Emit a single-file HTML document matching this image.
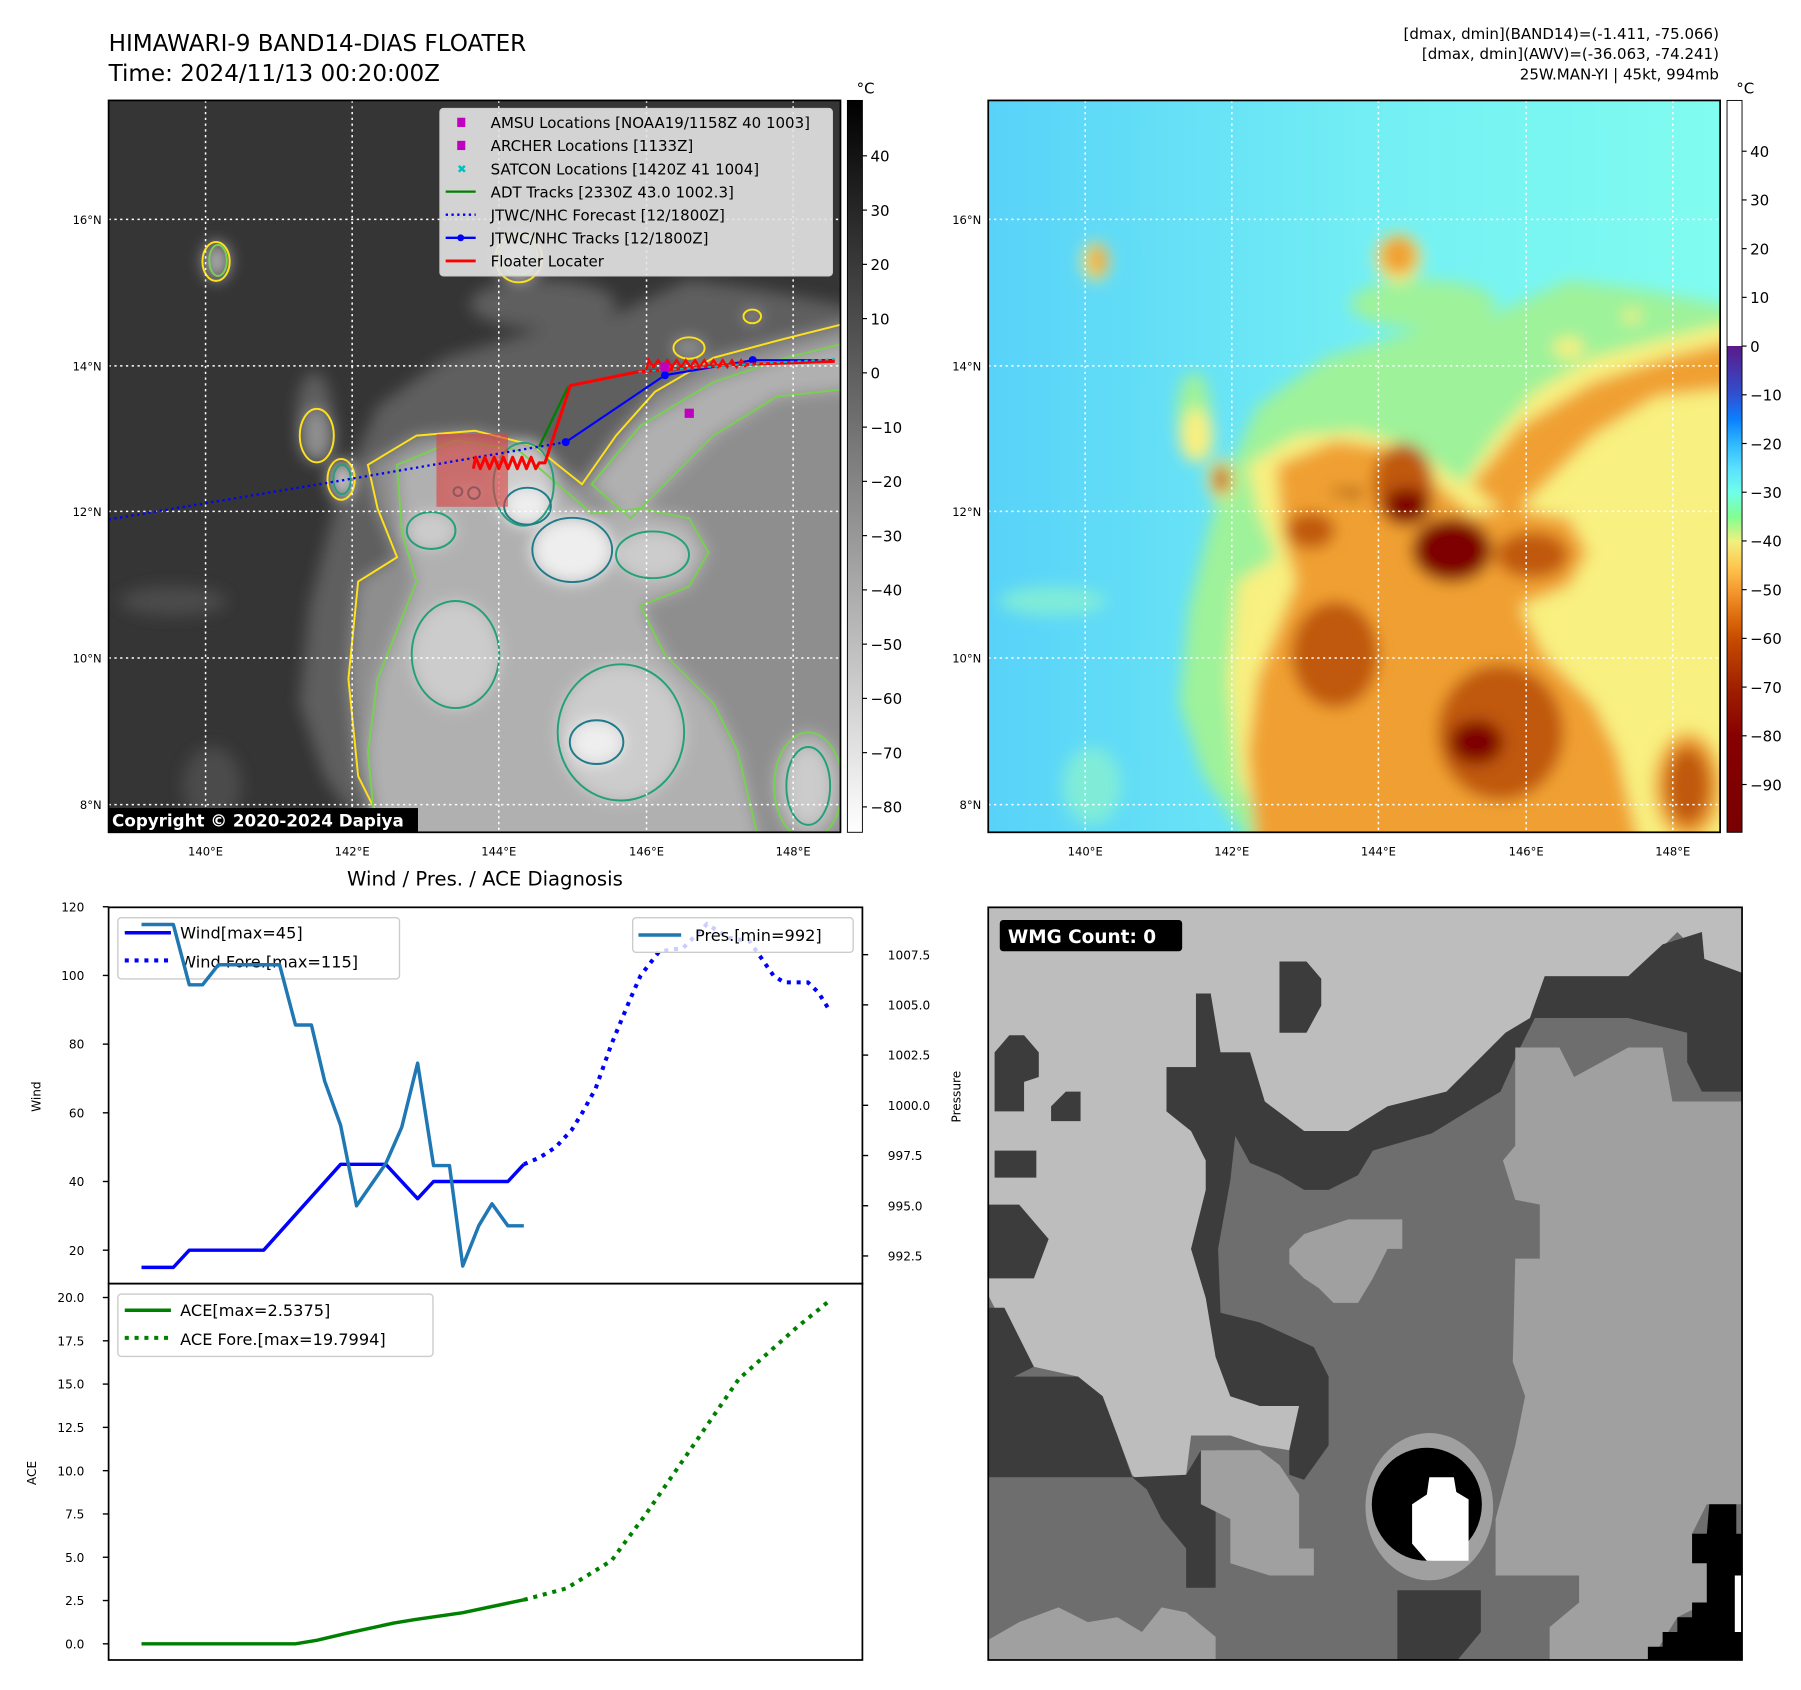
<!DOCTYPE html>
<html><head><meta charset="utf-8"><title>HIMAWARI-9 BAND14 Floater</title>
<style>html,body{margin:0;padding:0;background:#fff}svg{display:block}text{font-family:"DejaVu Sans","Liberation Sans",sans-serif}</style>
</head><body>
<svg id="fig" xmlns="http://www.w3.org/2000/svg" width="1801" height="1690" viewBox="0 0 1560 1464">
<defs>
<filter id="blur" x="-10%" y="-10%" width="120%" height="120%"><feGaussianBlur stdDeviation="16"/></filter>
<clipPath id="clip1"><rect x="94" y="87" width="634" height="634"/></clipPath>
<clipPath id="clip2"><rect x="856" y="87" width="634" height="634"/></clipPath>
<clipPath id="clip3"><rect x="856" y="786" width="653" height="652"/></clipPath>
<linearGradient id="cb1" x1="0" y1="0" x2="0" y2="1"><stop offset="0" stop-color="#000"/><stop offset="1" stop-color="#fff"/></linearGradient>
<linearGradient id="cb2" x1="0" y1="0" x2="0" y2="1">
<stop offset="0" stop-color="#fff"/><stop offset="0.3355" stop-color="#fff"/><stop offset="0.3356" stop-color="#5a1a88"/>
<stop offset="0.402" stop-color="#3050d0"/><stop offset="0.436" stop-color="#0a80ff"/><stop offset="0.469" stop-color="#30b8ff"/>
<stop offset="0.502" stop-color="#58e0ff"/><stop offset="0.536" stop-color="#70ffe8"/><stop offset="0.569" stop-color="#80ff90"/>
<stop offset="0.602" stop-color="#f0f080"/><stop offset="0.636" stop-color="#ffc850"/><stop offset="0.669" stop-color="#f59a30"/>
<stop offset="0.702" stop-color="#e07010"/><stop offset="0.735" stop-color="#c84c00"/><stop offset="0.802" stop-color="#a02000"/>
<stop offset="0.868" stop-color="#880000"/><stop offset="1" stop-color="#780000"/></linearGradient>
<linearGradient id="bg2" x1="0" y1="0" x2="1" y2="0"><stop offset="0" stop-color="#58d2f8"/><stop offset="0.55" stop-color="#74f0f4"/><stop offset="1" stop-color="#80fcf0"/></linearGradient>
</defs>

<text x="94" y="44" font-size="20">HIMAWARI-9 BAND14-DIAS FLOATER</text>
<text x="94" y="70" font-size="20">Time: 2024/11/13 00:20:00Z</text>
<text x="1489" y="34" font-size="13" text-anchor="end">[dmax, dmin](BAND14)=(-1.411, -75.066)</text>
<text x="1489" y="51" font-size="13" text-anchor="end">[dmax, dmin](AWV)=(-36.063, -74.241)</text>
<text x="1489" y="69" font-size="13" text-anchor="end">25W.MAN-YI | 45kt, 994mb</text>

<g id="map1" clip-path="url(#clip1)">
<rect x="94" y="87" width="634" height="634" fill="#353535"/>
<g id="m1blur" transform="translate(91,82.3) scale(0.4215)" filter="url(#blur)"></g>
<g id="m1cont" transform="translate(91,82.3) scale(0.4215)" fill="none" stroke-width="4"></g>
<g id="m1grid"></g>
<g id="m1over"></g>
</g>
<rect x="94" y="87" width="634" height="634" fill="none" stroke="#000" stroke-width="1.5"/>

<g id="map2" clip-path="url(#clip2)">
<rect x="856" y="87" width="634" height="634" fill="url(#bg2)"/>
<g id="m2blur" transform="translate(853,82.3) scale(0.4215)" filter="url(#blur)"></g>
<g id="m2grid"></g>
</g>
<rect x="856" y="87" width="634" height="634" fill="none" stroke="#000" stroke-width="1.5"/>

<rect x="734" y="87" width="13" height="634" fill="url(#cb1)" stroke="#000" stroke-width="0.8"/>
<text x="742" y="81" font-size="13">°C</text>
<rect x="1496" y="87" width="13" height="634" fill="url(#cb2)" stroke="#000" stroke-width="0.8"/>
<text x="1504" y="81" font-size="13">°C</text>
<g id="cbticks"></g>
<g id="maplabels"></g>

<text x="420" y="767" font-size="17" text-anchor="middle">Wind / Pres. / ACE Diagnosis</text>
<g id="chart"></g>
<rect x="94" y="786" width="653" height="326" fill="none" stroke="#000" stroke-width="1.5"/>
<rect x="94" y="1112" width="653" height="326" fill="none" stroke="#000" stroke-width="1.5"/>

<g id="wmg" clip-path="url(#clip3)">
<rect x="856" y="786" width="653" height="652" fill="#6e6e6e"/>
<g id="wmgshapes" transform="translate(853,784) scale(0.4255)"></g>
</g>
<rect x="856" y="786" width="653" height="652" fill="none" stroke="#000" stroke-width="1.5"/>
<rect x="866" y="797" width="158" height="27" rx="3" fill="#000"/>
<text x="873" y="817" font-size="16" font-weight="bold" fill="#fff">WMG Count: 0</text>

<script>
const NS='http://www.w3.org/2000/svg';
function mk(tag,attrs,parent){const e=document.createElementNS(NS,tag);for(const k in attrs)e.setAttribute(k,attrs[k]);parent.appendChild(e);return e;}
function txt(str,attrs,parent){const e=mk('text',attrs,parent);e.textContent=str;return e;}

// ---------- chart data ----------
const windHours=[0,12,18,46,75,92,104,110,138,144];
const windVals=[15,15,20,20,45,45,35,40,40,45];
const foreHours=[144,150,156,162,166,171,177,184,188,195,204,213,221,229,238,242,251,255,259];
const foreVals=[45,47,50,55,60,67,80,93,100,107,108,115,111,110,100,98,98,95,90];
const presHours=[0,12,18,23,29,52,58,64,69,75,81,92,98,104,110,116,121,127,132,138,144];
const presVals=[1009,1009,1006,1006,1007,1007,1004,1004,1001.2,999,995,997.1,998.9,1002.1,997,997,992,994,995.1,994,994];
const aceHours=[0,58,66,77,95,103,121,144];
const aceVals=[0,0,0.2,0.6,1.2,1.4,1.8,2.54];
const aceForeHours=[144,160,177,190,208,225,247,259];
const aceForeVals=[2.54,3.2,4.8,7.5,11.5,15.3,18.3,19.8];
const windTicks=[20,40,60,80,100,120];
const presTicks=[992.5,995.0,997.5,1000.0,1002.5,1005.0,1007.5];
const aceTicks=[0,2.5,5,7.5,10,12.5,15,17.5,20];

function xH(h){return 122.5+h*2.3;}
function yW(w){return 845+(100-w)*2.975;}
function yP(p){return 827+(1007.5-p)*17.4;}
function yA(a){return 1424-a*15;}
function pts(hs,vs,fy){return hs.map((h,i)=>xH(h).toFixed(1)+','+fy(vs[i]).toFixed(1)).join(' ');}

const ch=document.getElementById('chart');
windTicks.forEach(t=>{
  const y=yW(t);
  const tk=mk('line',{x1:89,x2:94,y1:y,y2:y,stroke:'#000','stroke-width':1.2},ch);
  
  
  const l=txt(String(t),{x:73,y:y+4,'font-size':10.5,'text-anchor':'end'},ch);
  
  
});
presTicks.forEach(t=>{
  const y=yP(t);
  const tk=mk('line',{x1:747,x2:752,y1:y,y2:y,stroke:'#000','stroke-width':1.2},ch);
  
  
  const l=txt(t.toFixed(1),{x:769,y:y+4,'font-size':10.5},ch);
  
  
});
aceTicks.forEach(t=>{
  const y=yA(t);
  const tk=mk('line',{x1:89,x2:94,y1:y,y2:y,stroke:'#000','stroke-width':1.2},ch);
  
  
  const l=txt(t.toFixed(1),{x:73,y:y+4,'font-size':10.5,'text-anchor':'end'},ch);
  
  
});
const yl1=txt('Wind',{x:0,y:0,'font-size':10.5,'text-anchor':'middle',transform:'translate(35,950) rotate(-90)'},ch);


const yl2=txt('Pressure',{x:0,y:0,'font-size':10.5,'text-anchor':'middle',transform:'translate(832,950) rotate(-90)'},ch);


const yl3=txt('ACE',{x:0,y:0,'font-size':10.5,'text-anchor':'middle',transform:'translate(31,1276) rotate(-90)'},ch);



const wl=mk('polyline',{points:pts(windHours,windVals,yW),fill:'none',stroke:'#0000ff','stroke-width':3,'stroke-linejoin':'round'},ch);


const wf=mk('polyline',{points:pts(foreHours,foreVals,yW),fill:'none',stroke:'#0000ff','stroke-width':3.5,'stroke-dasharray':'3.5 5'},ch);



function legendBox(x,y,w,h,name){const r=mk('rect',{x:x,y:y,width:w,height:h,rx:3,fill:'#fff','fill-opacity':0.8,stroke:'#ccc','stroke-width':1.2},ch);return r;}
legendBox(102,795,244,53,'wind-legend');
const lw1=mk('line',{x1:108,x2:148,y1:808,y2:808,stroke:'#0000ff','stroke-width':3},ch);


const lt1=txt('Wind[max=45]',{x:156,y:813,'font-size':14},ch);


const lw2=mk('line',{x1:108,x2:148,y1:832,y2:832,stroke:'#0000ff','stroke-width':3.5,'stroke-dasharray':'3.5 5'},ch);


const lt2=txt('Wind Fore.[max=115]',{x:156,y:838,'font-size':14},ch);



const pl=mk('polyline',{points:pts(presHours,presVals,yP),fill:'none',stroke:'#1f77b4','stroke-width':3,'stroke-linejoin':'round'},ch);


legendBox(548,795,191,30,'pressure-legend');
const lp=mk('line',{x1:553,x2:590,y1:810,y2:810,stroke:'#1f77b4','stroke-width':3},ch);


const lpt=txt('Pres.[min=992]',{x:602,y:815,'font-size':14},ch);



const al=mk('polyline',{points:pts(aceHours,aceVals,yA),fill:'none',stroke:'#008000','stroke-width':3},ch);


const af=mk('polyline',{points:pts(aceForeHours,aceForeVals,yA),fill:'none',stroke:'#008000','stroke-width':3.5,'stroke-dasharray':'3.5 5'},ch);


legendBox(102,1121,273,54,'ace-legend');
const la1=mk('line',{x1:108,x2:148,y1:1135,y2:1135,stroke:'#008000','stroke-width':3},ch);


const lat1=txt('ACE[max=2.5375]',{x:156,y:1140,'font-size':14},ch);


const la2=mk('line',{x1:108,x2:148,y1:1159,y2:1159,stroke:'#008000','stroke-width':3.5,'stroke-dasharray':'3.5 5'},ch);


const lat2=txt('ACE Fore.[max=19.7994]',{x:156,y:1165,'font-size':14},ch);



// ---------- colorbar ticks ----------
const cbIrTicks=[40,30,20,10,0,-10,-20,-30,-40,-50,-60,-70,-80];
const cbAwvTicks=[40,30,20,10,0,-10,-20,-30,-40,-50,-60,-70,-80,-90];
const cbt=document.getElementById('cbticks');
cbIrTicks.forEach(v=>{const y=323-v*4.7;
  const tk=mk('line',{x1:747,x2:751,y1:y,y2:y,stroke:'#000'},cbt);
  
  
  const l=txt(v<0?'\u2212'+(-v):String(v),{x:754,y:y+5,'font-size':13},cbt);
  
  });
cbAwvTicks.forEach(v=>{const y=131+(40-v)*4.22;
  const tk=mk('line',{x1:1509,x2:1513,y1:y,y2:y,stroke:'#000'},cbt);
  
  
  const l=txt(v<0?'\u2212'+(-v):String(v),{x:1516,y:y+5,'font-size':13},cbt);
  
  });

// ---------- map grid & labels ----------
const latLabels=['16°N','14°N','12°N','10°N','8°N'];
const latY=[190,317,443,570,697];
const lonLabels=['140°E','142°E','144°E','146°E','148°E'];
const lonX=[178,305,432,560,687];
const ml=document.getElementById('maplabels');
[[94,'m1grid'],[856,'m2grid']].forEach(([x0,gid])=>{
  const g=document.getElementById(gid);
  lonX.forEach(x=>{const ln=mk('line',{x1:x+x0-94,x2:x+x0-94,y1:87,y2:721,stroke:'#fff','stroke-width':1.3,'stroke-dasharray':'2 3'},g);
    
    });
  latY.forEach(y=>{const ln=mk('line',{x1:x0,x2:x0+634,y1:y,y2:y,stroke:'#fff','stroke-width':1.3,'stroke-dasharray':'2 3'},g);
    
    });
  latLabels.forEach((s,i)=>{const t=txt(s,{x:x0-6,y:latY[i]+4,'font-size':10,'text-anchor':'end'},ml);
    
    });
  lonLabels.forEach((s,i)=>{const t=txt(s,{x:lonX[i]+x0-94,y:741,'font-size':10,'text-anchor':'middle'},ml);
    
    });
});

// ---------- cloud imagery shapes (local map coords) ----------
const clouds=[
 {l:1,p:[[420,1050],[480,820],[560,640],[700,540],[900,480],[1050,450],[1200,380],[1350,400],[1560,440],[1560,1560],[560,1560],[450,1400],[400,1250]]},
 {l:1,e:[140,1040,110,30]},{l:1,e:[220,1420,60,80]},{l:1,e:[900,430,150,50]},{l:1,e:[430,650,35,80]},
 {l:2,p:[[540,760],[640,700],[760,690],[880,720],[980,800],[1050,700],[1130,610],[1250,540],[1400,500],[1560,460],[1560,1560],[600,1560],[520,1400],[500,1200],[520,1000],[600,950],[560,850]]},
 {l:2,e:[850,335,48,50]},{l:2,e:[228,342,28,40]},{l:2,e:[1200,520,32,22]},{l:2,e:[435,700,35,55]},{l:2,e:[485,790,28,42]},{l:2,e:[1330,455,18,14]},
 {l:3,p:[[600,760],[720,710],[850,730],[930,800],[1000,860],[1100,850],[1200,870],[1240,940],[1200,1010],[1100,1050],[1150,1150],[1250,1250],[1300,1350],[1350,1560],[560,1560],[540,1350],[560,1200],[600,1100],[640,1000],[610,900]]},
 {l:3,p:[[1000,800],[1100,680],[1250,590],[1400,540],[1560,500],[1560,600],[1380,620],[1250,700],[1150,800],[1080,870]]},
 {l:3,e:[1445,1420,70,110]},{l:3,e:[850,330,38,40]},{l:3,e:[232,340,18,32]},
 {l:4,e:[860,800,62,85]},{l:4,e:[670,895,50,38]},{l:4,e:[720,1150,90,110]},{l:4,e:[1060,1310,130,140]},{l:4,e:[1125,945,75,48]},{l:4,e:[1445,1420,45,80]},{l:4,e:[487,790,18,30]},
 {l:5,e:[960,935,82,66]},{l:5,e:[868,845,48,38]},{l:5,e:[1010,1330,55,45]},{l:5,e:[758,818,12,12]},{l:5,e:[725,815,9,9]}
];
const awvCol=['','#9ef29a','#f8f080','#f0a030','#c05808','#7e0000'];
const irCol=['','#5e5e5e','#8e8e8e','#b0b0b0','#cccccc','#eeeeee'];
const contCol=['','','#ffe11a','#78d050','#22a07a','#1f7a8a'];
function drawShape(s,g,attrs){
  let e;
  if(s.p) e=mk('polygon',Object.assign({points:s.p.map(q=>q.join(',')).join(' ')},attrs),g);
  else e=mk('ellipse',Object.assign({cx:s.e[0],cy:s.e[1],rx:s.e[2],ry:s.e[3]},attrs),g);
  return e;
}
const m1b=document.getElementById('m1blur'),m1c=document.getElementById('m1cont'),m2b=document.getElementById('m2blur');
clouds.forEach((s,i)=>{
  const a=drawShape(s,m2b,{fill:(i==1||i==2)?'#80ecd8':awvCol[s.l]});
  
  
  const b=drawShape(s,m1b,{fill:(i==1||i==2)?'#4c4c4c':irCol[s.l]});
  
  
  if(s.l>=2){const c=drawShape(s,m1c,{stroke:contCol[s.l]});
    
    }
});

// ---------- map1 overlays ----------
const ov=document.getElementById('m1over');
const rr=mk('rect',{x:378,y:376,width:62,height:63,fill:'#d84040','fill-opacity':0.6},ov);


const fc=mk('polyline',{points:'94,450 297,416 490,383',fill:'none',stroke:'#0000ff','stroke-width':2,'stroke-dasharray':'2 3'},ov);


const adt=mk('polyline',{points:'467,387 492,335',fill:'none',stroke:'#008000','stroke-width':2},ov);


const jt=mk('polyline',{points:'490,383 576,325 652,312 723,312',fill:'none',stroke:'#0000ff','stroke-width':1.8},ov);


[[490,383],[576,325],[652,312]].forEach(q=>{const d=mk('circle',{cx:q[0],cy:q[1],r:3.5,fill:'#0000ff'},ov);
  
  });
let zz='410,406';for(let i=0;i<14;i++){const x=412+i*4;zz+=' '+x+','+(i%2?406:396);}zz+=' 467,401 472,401 494,334 553,322 633,316 723,313';
const fl=mk('polyline',{points:zz,fill:'none',stroke:'#ff0000','stroke-width':2.6,'stroke-linejoin':'round'},ov);


let zz2='560,320';for(let i=0;i<22;i++){zz2+=' '+(562+i*4)+','+(i%2?318:312);}
const fl2=mk('polyline',{points:zz2,fill:'none',stroke:'#ff0000','stroke-width':2},ov);


const sc=mk('polyline',{points:'553,322 640,316 723,311',fill:'none',stroke:'#00bfbf','stroke-width':1.5,'stroke-dasharray':'3 3'},ov);


[[576,318],[597,358]].forEach(q=>{const m=mk('rect',{x:q[0]-4,y:q[1]-4,width:8,height:8,fill:'#c000c0'},ov);
  
  });
const cb=mk('rect',{x:94,y:700,width:268,height:21,fill:'#000'},ov);


const ct=txt('Copyright © 2020-2024 Dapiya',{x:97,y:716,'font-size':14.5,'font-weight':'bold',fill:'#fff'},ov);


// legend
const lg=mk('rect',{x:381,y:94,width:340,height:145,rx:3,fill:'#e4e4e4','fill-opacity':0.9,stroke:'#ccc'},ov);


const legLabels=['AMSU Locations [NOAA19/1158Z 40 1003]','ARCHER Locations [1133Z]','SATCON Locations [1420Z 41 1004]','ADT Tracks [2330Z 43.0 1002.3]','JTWC/NHC Forecast [12/1800Z]','JTWC/NHC Tracks [12/1800Z]','Floater Locater'];
legLabels.forEach((s,i)=>{const y=106+i*20;
  let sw;
  if(i<2){sw=mk('rect',{x:396,y:y-4,width:7,height:8,fill:'#c000c0'},ov);}
  else if(i==2){sw=txt('✖',{x:400,y:y+4,'font-size':10,fill:'#00bfbf','text-anchor':'middle'},ov);}
  else if(i==3){sw=mk('line',{x1:386,x2:412,y1:y,y2:y,stroke:'#008000','stroke-width':2},ov);}
  else if(i==4){sw=mk('line',{x1:386,x2:412,y1:y,y2:y,stroke:'#0000ff','stroke-width':2,'stroke-dasharray':'2 3'},ov);}
  else if(i==5){sw=mk('line',{x1:386,x2:412,y1:y,y2:y,stroke:'#0000ff','stroke-width':2},ov);mk('circle',{cx:399,cy:y,r:3,fill:'#0000ff'},ov);}
  else {sw=mk('line',{x1:386,x2:412,y1:y,y2:y,stroke:'#ff0000','stroke-width':2.5},ov);}
  
  
  const t=txt(s,{x:425,y:y+5,'font-size':13},ov);
  
  
});

// ---------- WMG classification image ----------
const wmgRegions=[
 {c:'#bdbdbd',p:[[0,0],[1547,0],[1547,140],[1465,110],[1410,55],[1380,85],[1340,145],[1140,145],[1110,230],[1000,320],[940,380],[820,410],[740,460],[650,460],[570,400],[540,300],[470,300],[460,180],[430,180],[430,330],[370,330],[370,420],[420,460],[450,520],[450,580],[420,700],[450,800],[470,920],[500,1000],[560,1020],[640,1020],[620,1110],[560,1100],[500,1080],[420,1080],[410,1160],[330,1190],[300,1160],[270,1080],[240,1000],[190,960],[100,940],[40,900],[20,820],[0,780]]},
 {c:'#3c3c3c',p:[[370,330],[430,330],[430,180],[460,180],[480,300],[540,300],[570,400],[650,460],[740,460],[820,410],[940,380],[1000,320],[1060,260],[1110,230],[1140,145],[1310,145],[1380,80],[1460,55],[1465,110],[1547,140],[1547,380],[1460,380],[1430,320],[1430,260],[1310,230],[1120,230],[1090,290],[1050,380],[1000,410],[910,465],[790,500],[760,550],[700,580],[650,580],[600,550],[540,525],[510,470],[500,560],[475,700],[480,830],[560,850],[670,900],[700,960],[700,1100],[650,1170],[620,1160],[620,1110],[640,1020],[560,1020],[500,1000],[470,920],[450,800],[420,700],[450,580],[450,520],[420,460],[370,420]]},
 {c:'#3c3c3c',p:[[0,960],[190,960],[240,1000],[270,1080],[300,1165],[0,1165]]},
 {c:'#3c3c3c',p:[[300,1165],[410,1160],[440,1110],[470,1110],[470,1390],[410,1390],[410,1310],[360,1250],[330,1190]]},
 {c:'#3c3c3c',p:[[20,300],[50,265],[80,265],[110,300],[110,350],[80,360],[80,420],[20,420]]},
 {c:'#3c3c3c',p:[[20,500],[105,500],[105,555],[20,555]]},
 {c:'#3c3c3c',p:[[0,610],[70,610],[130,680],[100,760],[0,760]]},
 {c:'#3c3c3c',p:[[135,410],[165,380],[195,380],[195,440],[135,440]]},
 {c:'#3c3c3c',p:[[600,115],[655,115],[685,150],[685,205],[655,260],[600,260]]},
 {c:'#3c3c3c',p:[[0,820],[40,820],[100,940],[0,990]]},
 {c:'#3c3c3c',p:[[840,1395],[1010,1395],[1010,1480],[960,1540],[840,1540]]},
 {c:'#a0a0a0',p:[[1080,290],[1170,290],[1200,350],[1310,290],[1380,290],[1400,400],[1547,400],[1547,1220],[1470,1220],[1440,1280],[1470,1340],[1470,1420],[1410,1450],[1350,1547],[1150,1547],[1150,1470],[1210,1420],[1210,1365],[1040,1365],[1040,1250],[1080,1100],[1100,1000],[1075,930],[1080,720],[1130,720],[1130,610],[1080,600],[1055,520],[1080,490]]},
 {c:'#a0a0a0',p:[[620,700],[650,670],[740,640],[850,640],[850,700],[820,700],[790,760],[760,810],[710,810],[680,780],[650,760],[620,730]]},
 {c:'#a0a0a0',p:[[440,1110],[560,1110],[600,1140],[640,1200],[640,1310],[670,1310],[670,1365],[580,1365],[500,1340],[500,1250],[440,1220]]},
 {c:'#a0a0a0',p:[[0,1500],[70,1460],[150,1430],[210,1460],[270,1450],[320,1480],[360,1430],[410,1440],[470,1490],[470,1547],[0,1547]]},
 {c:'#a0a0a0',e:[905,1225,130,150]},
 {c:'#000000',e:[900,1220,112,115]},
 {c:'#ffffff',p:[[905,1165],[955,1165],[960,1195],[985,1210],[985,1335],[900,1335],[870,1300],[870,1220],[900,1200]]},
 {c:'#000000',p:[[1350,1547],[1350,1510],[1380,1510],[1380,1480],[1410,1480],[1410,1450],[1440,1450],[1440,1420],[1470,1420],[1470,1340],[1440,1340],[1440,1280],[1470,1280],[1475,1220],[1530,1220],[1530,1280],[1547,1280],[1547,1547]]},
 {c:'#ffffff',p:[[1527,1365],[1540,1365],[1540,1480],[1527,1480]]}
];
const wg=document.getElementById('wmgshapes');
wmgRegions.forEach(s=>{
  let e;
  if(s.p) e=mk('polygon',{points:s.p.map(q=>q.join(',')).join(' '),fill:s.c},wg);
  else e=mk('ellipse',{cx:s.e[0],cy:s.e[1],rx:s.e[2],ry:s.e[3],fill:s.c},wg);
  
  
});
</script>
</svg>
</body></html>
